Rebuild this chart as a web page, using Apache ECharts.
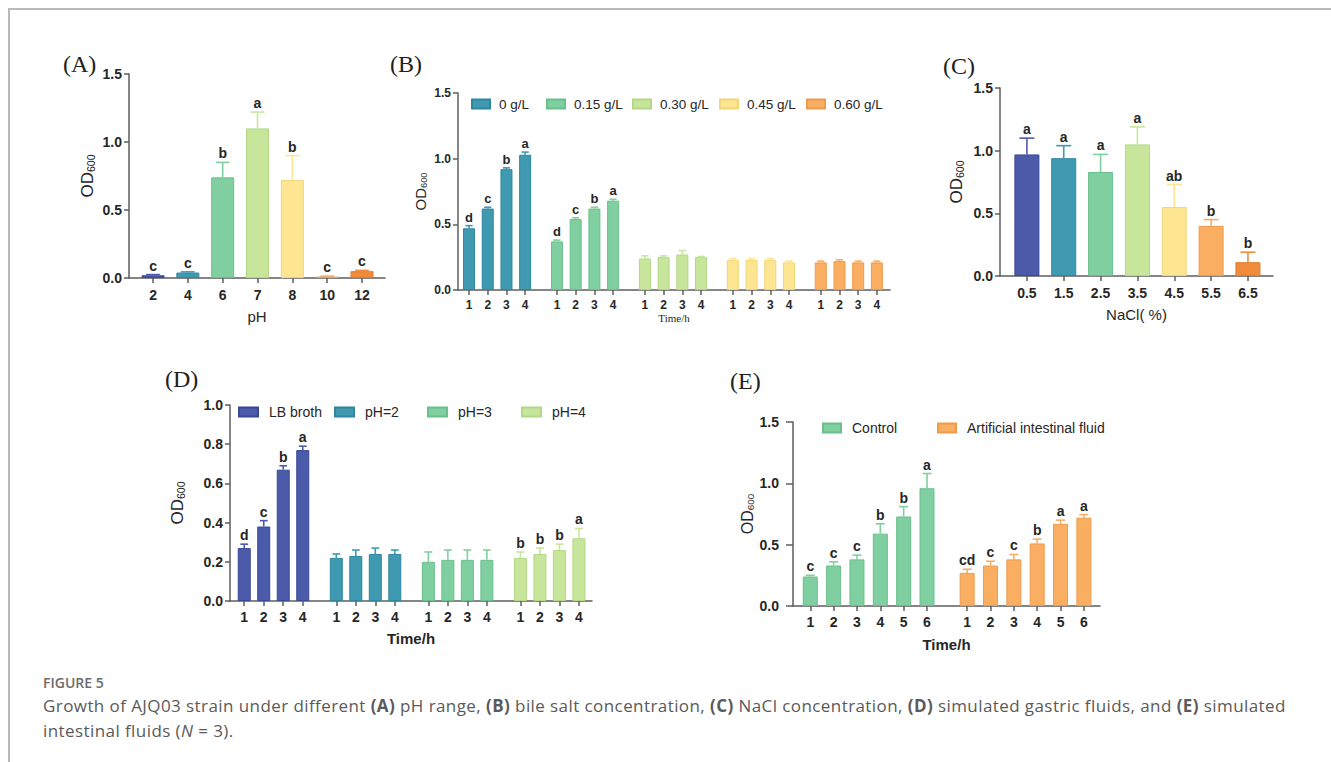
<!DOCTYPE html>
<html>
<head>
<meta charset="utf-8">
<script src="https://cdn.jsdelivr.net/npm/echarts@6/dist/echarts.min.js"></script>
<style>
  html, body { margin: 0; padding: 0; background: #fff; }
  #wrap { position: relative; width: 1331px; height: 762px; overflow: hidden; }
  #chart { position: absolute; left: 0; top: 0; width: 1331px; height: 762px; }
  #frameTop { position: absolute; left: 8px; top: 8px; right: 0; height: 2px; background: #b9b9b9; }
  #frameLeft { position: absolute; left: 8px; top: 8px; width: 2px; bottom: 0; background: #b9b9b9; }
  #caption { position: absolute; left: 43px; top: 673px; font-family: 'Open Sans', sans-serif; color: #5a5a5a; white-space: nowrap; }
  #caption .fig { font-size: 14px; font-weight: 600; color: #6b6b6b; line-height: 20px; }
  #caption .txt { font-size: 17px; line-height: 25px; letter-spacing: 0.42px; }
</style>
</head>
<body>
<div id="wrap">
  <div id="frameTop"></div>
  <div id="frameLeft"></div>
  <div id="chart"></div>
  <div id="caption">
    <div class="fig">FIGURE 5</div>
    <div class="txt">Growth of AJQ03 strain under different <b>(A)</b> pH range, <b>(B)</b> bile salt concentration, <b>(C)</b> NaCl concentration, <b>(D)</b> simulated gastric fluids, and <b>(E)</b> simulated<br>intestinal fluids (<i>N</i> = 3).</div>
  </div>
</div>
<script>
// (A) pH range
const phLabels = ['2', '4', '6', '7', '8', '10', '12'];
const phMeans = [0.02, 0.04, 0.74, 1.10, 0.72, 0.01, 0.05];
const phErr = [0.005, 0.005, 0.11, 0.12, 0.18, 0.004, 0.006];
const phLetters = ['c', 'c', 'b', 'a', 'b', 'c', 'c'];

// (B) bile salt, OD600 at 1-4 h
const bileGroups = ['0 g/L', '0.15 g/L', '0.30 g/L', '0.45 g/L', '0.60 g/L'];
const bileTimes = ['1', '2', '3', '4'];
const bileMeans = [
  [0.47, 0.62, 0.92, 1.03],
  [0.37, 0.54, 0.62, 0.68],
  [0.24, 0.25, 0.27, 0.25],
  [0.23, 0.23, 0.23, 0.21],
  [0.21, 0.22, 0.21, 0.21]
];
const bileErr = [
  [0.02, 0.01, 0.01, 0.02],
  [0.01, 0.01, 0.01, 0.01],
  [0.02, 0.01, 0.03, 0.005],
  [0.01, 0.01, 0.01, 0.01],
  [0.01, 0.01, 0.01, 0.01]
];
const bileLetters = [
  ['d', 'c', 'b', 'a'],
  ['d', 'c', 'b', 'a'],
  ['', '', '', ''],
  ['', '', '', ''],
  ['', '', '', '']
];

// (C) NaCl
const naclLabels = ['0.5', '1.5', '2.5', '3.5', '4.5', '5.5', '6.5'];
const naclMeans = [0.97, 0.94, 0.83, 1.05, 0.55, 0.40, 0.11];
const naclErr = [0.13, 0.10, 0.14, 0.14, 0.18, 0.05, 0.08];
const naclLetters = ['a', 'a', 'a', 'a', 'ab', 'b', 'b'];

// (D) simulated gastric fluid
const gastricGroups = ['LB broth', 'pH=2', 'pH=3', 'pH=4'];
const gastricTimes = ['1', '2', '3', '4'];
const gastricMeans = [
  [0.27, 0.38, 0.67, 0.77],
  [0.22, 0.23, 0.24, 0.24],
  [0.20, 0.21, 0.21, 0.21],
  [0.22, 0.24, 0.26, 0.32]
];
const gastricErr = [
  [0.02, 0.03, 0.02, 0.02],
  [0.02, 0.03, 0.03, 0.02],
  [0.05, 0.05, 0.05, 0.05],
  [0.03, 0.03, 0.03, 0.05]
];
const gastricLetters = [
  ['d', 'c', 'b', 'a'],
  ['', '', '', ''],
  ['', '', '', ''],
  ['b', 'b', 'b', 'a']
];

// (E) simulated intestinal fluid
const intestGroups = ['Control', 'Artificial intestinal fluid'];
const intestTimes = ['1', '2', '3', '4', '5', '6'];
const intestMeans = [
  [0.24, 0.33, 0.38, 0.59, 0.73, 0.96],
  [0.27, 0.33, 0.38, 0.51, 0.67, 0.72]
];
const intestErr = [
  [0.01, 0.03, 0.035, 0.08, 0.08, 0.12],
  [0.03, 0.035, 0.04, 0.035, 0.03, 0.025]
];
const intestLetters = [
  ['c', 'c', 'c', 'b', 'b', 'a'],
  ['cd', 'c', 'c', 'b', 'a', 'a']
];

const FONT = 'Liberation Sans, Arial, sans-serif';
const AX = '#5e5e5e';
const TXT = '#262626';

const PAL = {
  navy:   { fill: '#4B5BA9', line: '#3A4996' },
  teal:   { fill: '#3F9AB1', line: '#2E879E' },
  green:  { fill: '#80CFA0', line: '#6ABF8C' },
  lime:   { fill: '#C7E69C', line: '#B2D786' },
  yellow: { fill: '#FDE592', line: '#F0D67A' },
  orange: { fill: '#F9AE62', line: '#EE9B4B' },
  deep:   { fill: '#F28C3D', line: '#DF7A2B' }
};

const option = {
  animation: false,
  grid: [], xAxis: [], yAxis: [], series: [], legend: [], title: []
};

function addAxes(g) {
  const i = option.grid.length;
  option.grid.push({ left: g.left, top: g.top, width: g.width, height: g.height, outerBoundsMode: 'none' });
  const labelFor = v => {
    const k = g.ticks.findIndex(p => Math.abs(p - v) < 1e-6);
    return k < 0 ? '' : g.tickLabels[k];
  };
  option.xAxis.push({
    type: 'value', gridIndex: i, min: g.xMin, max: g.xMax,
    splitLine: { show: false },
    axisLine: { show: true, onZero: false, lineStyle: { color: AX, width: 1.5 } },
    axisTick: { show: true, customValues: g.ticks, length: 5, lineStyle: { color: AX, width: 1.5 } },
    axisLabel: { customValues: g.ticks, formatter: labelFor, margin: g.xMargin, color: TXT,
      fontFamily: FONT, fontSize: g.xFont, fontWeight: 'bold' },
    name: g.xName, nameLocation: 'middle', nameGap: g.xNameGap,
    nameTextStyle: g.xNameStyle
  });
  option.yAxis.push({
    type: 'value', gridIndex: i, min: 0, max: g.yMax, interval: g.yInt,
    splitLine: { show: false },
    axisLine: { show: true, lineStyle: { color: AX, width: 1.5 } },
    axisTick: { show: true, length: g.yTick || 5, lineStyle: { color: AX, width: 1.5 } },
    axisLabel: { formatter: v => v.toFixed(1), margin: g.yMargin, color: TXT,
      fontFamily: FONT, fontSize: g.yFont, fontWeight: 'bold' },
    name: '{o|OD}{s|600}', nameLocation: 'middle', nameGap: g.yNameGap, nameRotate: 90,
    nameTextStyle: {
      rich: {
        o: { fontFamily: FONT, fontSize: g.odFont, color: TXT, verticalAlign: 'bottom', lineHeight: 20 },
        s: { fontFamily: FONT, fontSize: g.odFont * 0.62, color: TXT, verticalAlign: 'bottom', lineHeight: 15 }
      }
    }
  });
  return i;
}

function addBars(i, name, xs, means, errs, letters, colors, barWidth, letterSize) {
  option.series.push({
    type: 'bar', name: name, xAxisIndex: i, yAxisIndex: i,
    barWidth: barWidth, barGap: '-100%',
    itemStyle: { color: colors[0].fill, borderColor: colors[0].line, borderWidth: 1 },
    data: means.map((m, k) => ({
      value: [xs[k], m],
      itemStyle: { color: colors[k].fill, borderColor: colors[k].line, borderWidth: 1 }
    }))
  });
  option.series.push({
    type: 'custom', name: name + ' SD', xAxisIndex: i, yAxisIndex: i, z: 3,
    data: means.map((m, k) => [xs[k], m, errs[k]]),
    renderItem: (params, api) => {
      const k = params.dataIndex;
      const x = api.value(0), m = api.value(1), e = api.value(2);
      const b = api.coord([x, m]);
      const t = api.coord([x, m + e]);
      const cap = barWidth * 0.3;
      const col = colors[k].fill;
      return {
        type: 'group',
        children: [
          { type: 'line', shape: { x1: t[0], y1: b[1], x2: t[0], y2: t[1] },
            style: { stroke: col, lineWidth: 1.6 } },
          { type: 'line', shape: { x1: t[0] - cap, y1: t[1], x2: t[0] + cap, y2: t[1] },
            style: { stroke: col, lineWidth: 1.6 } },
          { type: 'text', style: { text: letters[k], x: t[0], y: t[1] - 2, align: 'center',
            verticalAlign: 'bottom', fontFamily: FONT, fontSize: letterSize, fontWeight: 'bold', fill: TXT } }
        ]
      };
    }
  });
}

function addLegend(name, left, top, w, h, gap, size) {
  option.legend.push({
    data: [name], left: left, top: top, padding: 0, itemWidth: w, itemHeight: h,
    icon: 'rect', selectedMode: false,
    textStyle: { fontFamily: FONT, fontSize: size, color: TXT, padding: [0, 0, 0, gap] }
  });
}

function addTitle(text, left, top) {
  option.title.push({ text: text, left: left, top: top, padding: 0,
    textStyle: { fontFamily: 'Liberation Serif, serif', fontSize: 24, fontWeight: 'normal', color: '#1e1e1e' } });
}

// ---------- (A)
{
  const xs = phLabels.map((_, k) => k + 1);
  const i = addAxes({ left: 129, top: 74, width: 256, height: 204, xMin: 0.31, xMax: 7.66,
    ticks: xs, tickLabels: phLabels, xFont: 14, yFont: 14, xMargin: 10, yMargin: 7,
    yMax: 1.5, yInt: 0.5, yNameGap: 33, odFont: 17, xName: 'pH', xNameGap: 31,
    xNameStyle: { fontFamily: FONT, fontSize: 15, color: TXT } });
  const cols = [PAL.navy, PAL.teal, PAL.green, PAL.lime, PAL.yellow, PAL.orange, PAL.deep];
  addBars(i, 'pH', xs, phMeans, phErr, phLetters, cols, 23, 14);
  addTitle('(A)', 63, 52);
}

// ---------- (B)
{
  const pitch = 4.7;
  const ticks = [], labels = [];
  bileGroups.forEach((_, g) => bileTimes.forEach((t, k) => { ticks.push(g * pitch + k + 1); labels.push(t); }));
  const i = addAxes({ left: 458, top: 93, width: 432, height: 197, xMin: 0.41, xMax: 23.5,
    ticks: ticks, tickLabels: labels, xFont: 12, yFont: 12, xMargin: 9, yMargin: 7,
    yMax: 1.5, yInt: 0.5, yNameGap: 30, odFont: 15, xName: 'Time/h', xNameGap: 22,
    xNameStyle: { fontFamily: 'Liberation Serif, serif', fontSize: 11, color: TXT } });
  const cols = [PAL.teal, PAL.green, PAL.lime, PAL.yellow, PAL.orange];
  const legendX = [471, 546, 632, 719, 806];
  bileGroups.forEach((name, g) => {
    const xs = bileTimes.map((_, k) => g * pitch + k + 1);
    addBars(i, name, xs, bileMeans[g], bileErr[g], bileLetters[g], bileTimes.map(() => cols[g]), 12, 13);
    addLegend(name, legendX[g], 97, 18, 9, 4, 13.5);
  });
  addTitle('(B)', 390, 52);
}

// ---------- (C)
{
  const xs = naclLabels.map((_, k) => k + 1);
  const i = addAxes({ left: 1000, top: 88, width: 273, height: 188, xMin: 0.27, xMax: 7.68,
    ticks: xs, tickLabels: naclLabels, xFont: 14, yFont: 14, xMargin: 10, yMargin: 7,
    yMax: 1.5, yInt: 0.5, yNameGap: 35, odFont: 17, xName: 'NaCl( %)', xNameGap: 31,
    xNameStyle: { fontFamily: FONT, fontSize: 15, color: TXT } });
  const cols = [PAL.navy, PAL.teal, PAL.green, PAL.lime, PAL.yellow, PAL.orange, PAL.deep];
  addBars(i, 'NaCl', xs, naclMeans, naclErr, naclLetters, cols, 25, 14);
  addTitle('(C)', 943, 54);
}

// ---------- (D)
{
  const pitch = 4.72;
  const ticks = [], labels = [];
  gastricGroups.forEach((_, g) => gastricTimes.forEach((t, k) => { ticks.push(g * pitch + k + 1); labels.push(t); }));
  const i = addAxes({ left: 230, top: 405, width: 362, height: 196, xMin: 0.27, xMax: 18.83,
    ticks: ticks, tickLabels: labels, xFont: 14, yFont: 14, xMargin: 9, yMargin: 7,
    yMax: 1.0, yInt: 0.2, yNameGap: 44, odFont: 17, xName: 'Time/h', xNameGap: 30,
    xNameStyle: { fontFamily: FONT, fontSize: 15, fontWeight: 'bold', color: TXT } });
  const cols = [PAL.navy, PAL.teal, PAL.green, PAL.lime];
  const legendX = [238, 334, 427, 521];
  gastricGroups.forEach((name, g) => {
    const xs = gastricTimes.map((_, k) => g * pitch + k + 1);
    addBars(i, name, xs, gastricMeans[g], gastricErr[g], gastricLetters[g], gastricTimes.map(() => cols[g]), 13, 14);
    addLegend(name, legendX[g], 405, 19, 9, 6, 14);
  });
  addTitle('(D)', 165, 367);
}

// ---------- (E)
{
  const pitch = 6.72;
  const ticks = [], labels = [];
  intestGroups.forEach((_, g) => intestTimes.forEach((t, k) => { ticks.push(g * pitch + k + 1); labels.push(t); }));
  const i = addAxes({ left: 793, top: 422, width: 307, height: 184, xMin: 0.26, xMax: 13.41,
    ticks: ticks, tickLabels: labels, xFont: 14, yFont: 14, xMargin: 9, yMargin: 14, yTick: 7,
    yMax: 1.5, yInt: 0.5, yNameGap: 35, odFont: 16, xName: 'Time/h', xNameGap: 31,
    xNameStyle: { fontFamily: FONT, fontSize: 15, fontWeight: 'bold', color: TXT } });
  const cols = [PAL.green, PAL.orange];
  const legendX = [822, 937];
  intestGroups.forEach((name, g) => {
    const xs = intestTimes.map((_, k) => g * pitch + k + 1);
    addBars(i, name, xs, intestMeans[g], intestErr[g], intestLetters[g], intestTimes.map(() => cols[g]), 15, 14);
    addLegend(name, legendX[g], 421, 18, 9, 6, 14);
  });
  addTitle('(E)', 730, 369);
}

const chart = echarts.init(document.getElementById('chart'), null, { renderer: 'svg' });
chart.setOption(option);
</script>
</body>
</html>
